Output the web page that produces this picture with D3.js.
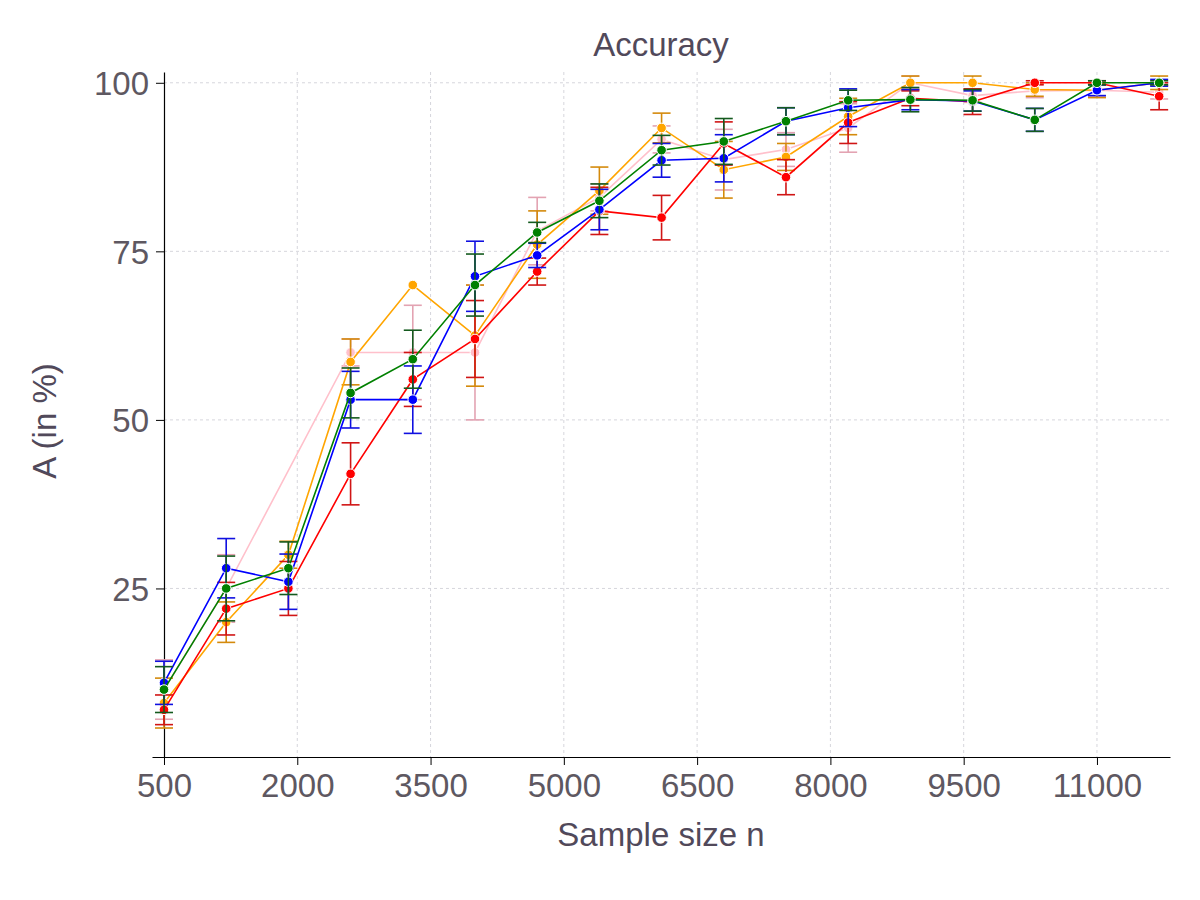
<!DOCTYPE html>
<html>
<head>
<meta charset="utf-8">
<script src="https://cdn.jsdelivr.net/npm/d3@7"></script>
<style>
  body { margin: 0; background: #fff; }
  svg { font-family: "Liberation Sans", Arial, sans-serif; }
</style>
</head>
<body>
<svg id="chart" width="1200" height="900"></svg>
<script>
// sample sizes
var sampleSizes = [500, 1200, 1900, 2600, 3300, 4000, 4700, 5400, 6100, 6800, 7500, 8200, 8900, 9600, 10300, 11000, 11700];
var xTicks = [500, 2000, 3500, 5000, 6500, 8000, 9500, 11000];
var yTicks = [25, 50, 75, 100];

// accuracy means and error bars per series (null = no point)
var pinkMean  = [10, 25, null, 60, 60, 60, 78, 83, 91.6, 88.6, 90.1, 93.3, 100, 98.1, 98.8, 98.9, 98.6];
var pinkErr   = [4.4, 5, null, 2, 7, 10, 5, 2, 2, 4.5, 2.5, 3.6, 1, 1, 1, 1, 1];
var orangeMean = [8, 20, 30, 58.6, 70, 62.5, 76, 84, 93.3, 87.1, 89, 95, 100, 100, 99, 98.9, 100];
var orangeErr  = [3.7, 3, 2, 3.4, 0, 7.5, 5, 3.5, 2.2, 4.2, 2, 2.7, 1, 1, 1, 1.1, 1];
var redMean   = [7, 22, 25, 42, 56, 62, 72, 81, 80, 91, 86, 94.1, 97.7, 97.2, 100, 100, 98];
var redErr    = [2.2, 3.9, 4, 4.6, 4, 5.7, 2, 3.5, 3.3, 3.2, 2.6, 3.1, 1.1, 1.9, 0.3, 0.3, 2];
var blueMean  = [11, 28, 26, 53, 53, 71.3, 74.4, 81.2, 88.5, 88.8, 94.3, 96.3, 97.5, 97.3, 94.5, 98.9, 100];
var blueErr   = [3.2, 4.4, 4.1, 4.2, 5, 5.2, 1.8, 3, 2.5, 3.5, 2, 2.8, 1.5, 1.5, 1.7, 0.8, 0.5];
var greenMean = [10, 25, 28, 54, 59, 70, 77.8, 82.5, 90, 91.3, 94.3, 97.4, 97.5, 97.4, 94.5, 100, 100];
var greenErr  = [3.4, 4.8, 3.9, 3.7, 4.3, 4.6, 1.5, 2.5, 2.2, 3.4, 2, 1.5, 1.8, 1.6, 1.7, 0.3, 0.3];

var series = [
  {mean: pinkMean, err: pinkErr, color: "#ffc0cb", cap: "#e3a3b2"},
  {mean: orangeMean, err: orangeErr, color: "#ffa500", cap: "#d48a0c"},
  {mean: redMean, err: redErr, color: "#ff0000", cap: "#d01515"},
  {mean: blueMean, err: blueErr, color: "#0000ff", cap: "#1010e0"},
  {mean: greenMean, err: greenErr, color: "#008000", cap: "#145a1e"}
];

var svg = d3.select("#chart");
var textColor = "#51495a";

var x = d3.scaleLinear().domain([365, 11822]).range([152, 1170]);
var y = d3.scaleLinear().domain([0, 101.6]).range([757, 72]);

// grid
var grid = svg.append("g").attr("stroke", "#d6d6dc").attr("stroke-dasharray", "3,3").attr("stroke-width", 1);
xTicks.slice(1).forEach(function(t) {
  grid.append("line").attr("x1", x(t)).attr("x2", x(t)).attr("y1", y(101.6)).attr("y2", y(0));
});
yTicks.forEach(function(t) {
  grid.append("line").attr("x1", x(500)).attr("x2", x(11822)).attr("y1", y(t)).attr("y2", y(t));
});

// axes
var xAxis = svg.append("g")
  .attr("transform", "translate(0," + y(0) + ")")
  .call(d3.axisBottom(x).tickValues(xTicks).tickSize(8).tickSizeOuter(0).tickFormat(d3.format("d")));
var yAxis = svg.append("g")
  .attr("transform", "translate(" + x(500) + ",0)")
  .call(d3.axisLeft(y).tickValues(yTicks).tickSize(8).tickSizeOuter(0));
[xAxis, yAxis].forEach(function(a) {
  a.select(".domain").attr("stroke", "#000").attr("stroke-width", 1.2);
  a.selectAll(".tick line").attr("stroke", "#000");
  a.selectAll("text").attr("fill", "#5e5861").style("font-size", "33px");
});
xAxis.selectAll("text").attr("y", 10).attr("dy", "0.9em");
yAxis.selectAll("text").attr("x", -15).attr("dy", "0.36em");

// series
series.forEach(function(s) {
  var pts = sampleSizes.map(function(n, i) { return {n: n, v: s.mean[i], e: s.err[i]}; })
    .filter(function(d) { return d.v !== null; });
  var g = svg.append("g");

  var eb = g.selectAll(".eb").data(pts.filter(function(d) { return d.e > 0; }))
    .enter().append("g").attr("stroke", s.cap).attr("stroke-width", 1.6);
  eb.append("line")
    .attr("x1", function(d) { return x(d.n); }).attr("x2", function(d) { return x(d.n); })
    .attr("y1", function(d) { return y(d.v - d.e); }).attr("y2", function(d) { return y(d.v + d.e); });
  eb.append("line")
    .attr("x1", function(d) { return x(d.n) - 9; }).attr("x2", function(d) { return x(d.n) + 9; })
    .attr("y1", function(d) { return y(d.v + d.e); }).attr("y2", function(d) { return y(d.v + d.e); });
  eb.append("line")
    .attr("x1", function(d) { return x(d.n) - 9; }).attr("x2", function(d) { return x(d.n) + 9; })
    .attr("y1", function(d) { return y(d.v - d.e); }).attr("y2", function(d) { return y(d.v - d.e); });

  g.append("path")
    .datum(pts)
    .attr("fill", "none")
    .attr("stroke", s.color)
    .attr("stroke-width", 1.6)
    .attr("d", d3.line().x(function(d) { return x(d.n); }).y(function(d) { return y(d.v); }));

  g.selectAll("circle").data(pts).enter().append("circle")
    .attr("cx", function(d) { return x(d.n); })
    .attr("cy", function(d) { return y(d.v); })
    .attr("r", 4.8)
    .attr("fill", s.color)
    .attr("stroke", "#fff")
    .attr("stroke-width", 1);
});

// titles
svg.append("text").attr("x", 661).attr("y", 56).attr("text-anchor", "middle")
  .attr("fill", textColor).style("font-size", "33px").text("Accuracy");
svg.append("text").attr("x", 661).attr("y", 846).attr("text-anchor", "middle")
  .attr("fill", textColor).style("font-size", "33px").text("Sample size n");
svg.append("text").attr("transform", "translate(56,421) rotate(-90)").attr("text-anchor", "middle")
  .attr("fill", textColor).style("font-size", "33px").text("A (in %)");
</script>
</body>
</html>
